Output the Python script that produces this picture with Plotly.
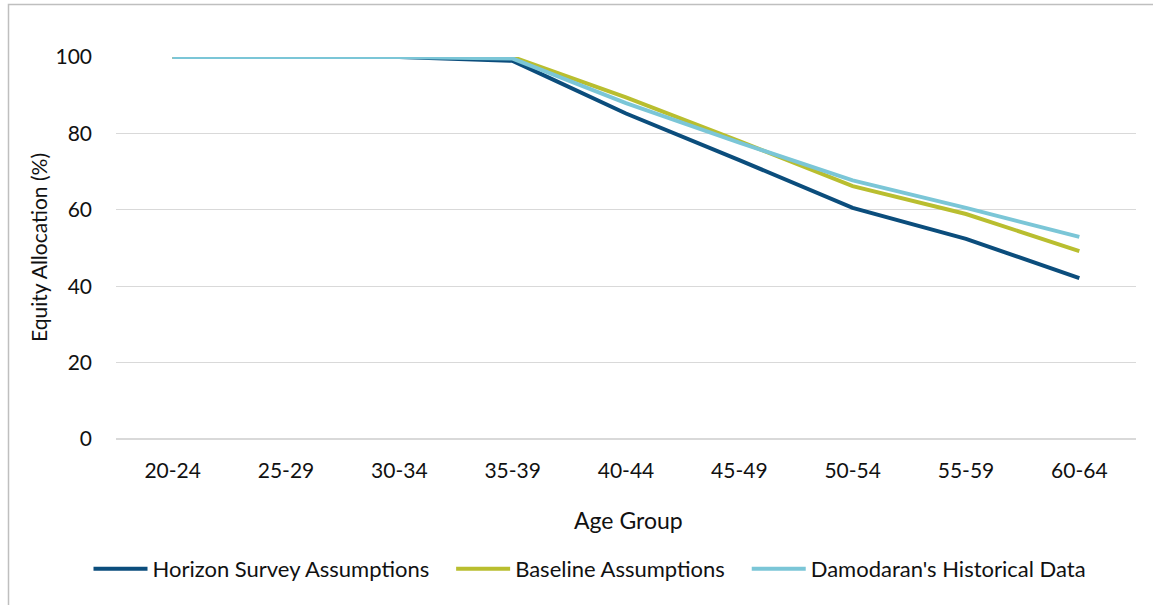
import plotly.graph_objects as go

# Age bands on the x axis
age_groups = ["20-24", "25-29", "30-34", "35-39", "40-44", "45-49", "50-54", "55-59", "60-64"]

# Equity allocation (%) for each glide path
horizon_survey = [100, 100, 100, 99.0, 85.2, 73.0, 60.5, 52.4, 42.1]
baseline = [100, 100, 100, 100, 89.4, 78.0, 66.2, 58.9, 49.2]
damodaran = [100, 100, 100, 99.6, 87.9, 77.6, 67.7, 60.5, 52.9]

series_names = ["Horizon Survey Assumptions", "Baseline Assumptions", "Damodaran's Historical Data"]
series_colors = ["#0b4d7c", "#b9be2f", "#7bc6d7"]

y_ticks = [0, 20, 40, 60, 80, 100]

FONT = "Lato, 'Open Sans', sans-serif"
TEXT = "#111111"
PAD = "\u00a0\u00a0\u00a0"  # spacing after each legend entry

W, H = 1153, 605
L, R, T, B = 116, 17, 57, 166
plot_w = W - L - R
plot_h = H - T - B


def px_to_paper_x(px):
    return (px - L) / plot_w


def px_to_paper_y(py):
    return (H - B - py) / plot_h


fig = go.Figure()
for i, (name, vals, color) in enumerate(zip(series_names, [horizon_survey, baseline, damodaran], series_colors)):
    label = name + (PAD if i < len(series_names) - 1 else "")
    fig.add_trace(go.Scatter(
        x=age_groups, y=vals, name=label, mode="lines",
        line=dict(color=color, width=4), cliponaxis=False,
    ))

fig.update_layout(
    width=W, height=H,
    margin=dict(l=L, r=R, t=T, b=B, pad=0),
    paper_bgcolor="white", plot_bgcolor="white",
    font=dict(family=FONT, size=21, color=TEXT),
    showlegend=True,
    legend=dict(
        orientation="h", x=px_to_paper_x(590), xanchor="center",
        y=px_to_paper_y(569), yanchor="middle",
        font=dict(family=FONT, size=22, color=TEXT),
        itemwidth=54, tracegroupgap=0, bgcolor="rgba(0,0,0,0)",
    ),
    xaxis=dict(
        type="category", range=[-0.5, len(age_groups) - 0.5],
        showgrid=False, zeroline=False,
        showline=False, ticks="", ticklabelstandoff=17,
        tickfont=dict(family=FONT, size=21, color=TEXT),
    ),
    yaxis=dict(
        range=[0, 100], tickvals=y_ticks, showgrid=True,
        gridcolor="#d9d9d9", gridwidth=1, zeroline=True,
        zerolinecolor="#d9d9d9", zerolinewidth=1.5, showline=False,
        ticks="", ticklabelstandoff=23,
        tickfont=dict(family=FONT, size=21, color=TEXT),
    ),
    annotations=[
        dict(text="Age Group", xref="paper", yref="paper",
             x=px_to_paper_x(628), y=px_to_paper_y(520),
             xanchor="center", yanchor="middle", showarrow=False,
             font=dict(family=FONT, size=23, color=TEXT)),
        dict(text="Equity Allocation (%)", xref="paper", yref="paper",
             x=px_to_paper_x(38), y=px_to_paper_y(248), textangle=-90,
             xanchor="center", yanchor="middle", showarrow=False,
             font=dict(family=FONT, size=21, color=TEXT)),
    ],
    shapes=[
        # outer chart frame (left and top edges fall inside the page)
        dict(type="rect", xref="paper", yref="paper",
             x0=px_to_paper_x(8.5), x1=px_to_paper_x(1170),
             y0=px_to_paper_y(620), y1=px_to_paper_y(4.5),
             line=dict(color="#bfbfbf", width=1.5), fillcolor="rgba(0,0,0,0)",
             layer="below"),
    ],
)

fig.write_html("out.html")
